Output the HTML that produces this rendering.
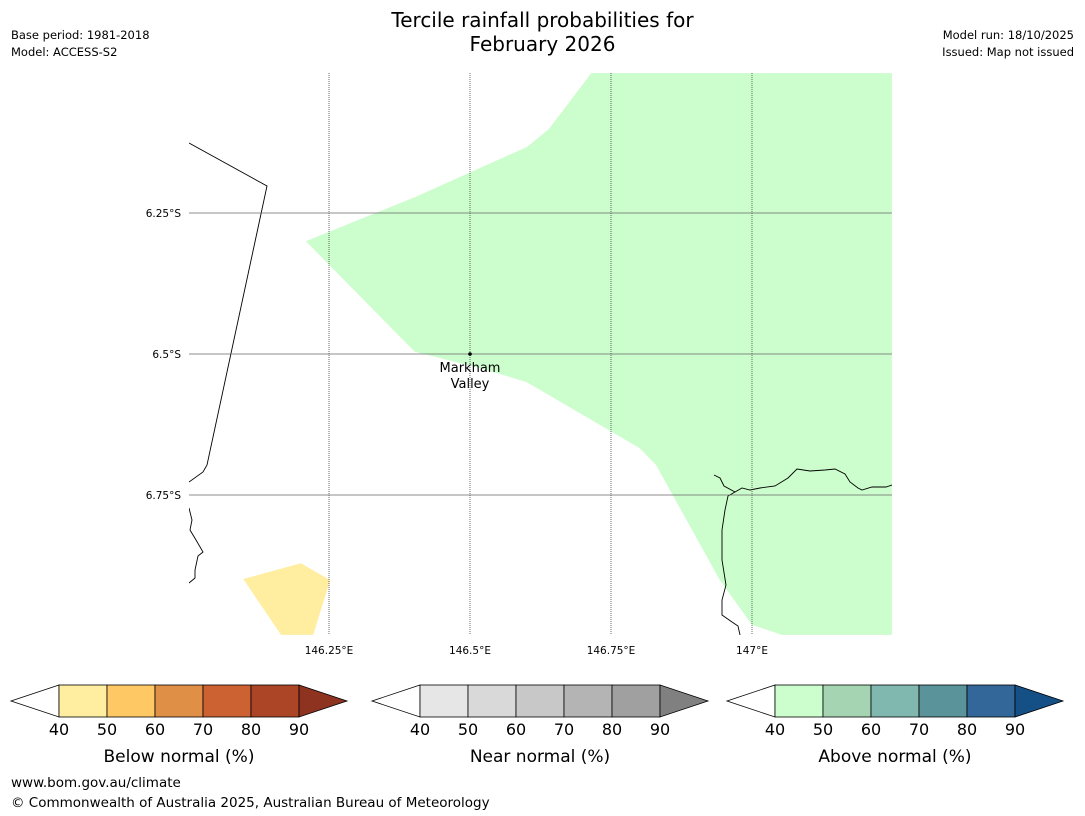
<!DOCTYPE html>
<html><head><meta charset="utf-8">
<style>
body{margin:0;background:#fff;font-family:"Liberation Sans","DejaVu Sans",sans-serif;}
#wrap{position:relative;width:1085px;height:816px;overflow:hidden;}
.t{position:absolute;white-space:nowrap;color:#000;}
</style></head>
<body>
<div id="wrap">
<div class="t" style="left:0;width:1085px;top:8px;text-align:center;font-size:20px;line-height:24px;font-family:'DejaVu Sans',sans-serif;">Tercile rainfall probabilities for<br>February 2026</div>
<div class="t" style="left:11px;top:27px;font-size:11.5px;font-family:'DejaVu Sans',sans-serif;line-height:17px;">Base period: 1981-2018<br>Model: ACCESS-S2</div>
<div class="t" style="right:11px;top:27px;font-size:11.5px;font-family:'DejaVu Sans',sans-serif;line-height:17px;text-align:right;">Model run: 18/10/2025<br>Issued: Map not issued</div>
<svg id="map" width="1085" height="816" style="position:absolute;left:0;top:0" font-family="DejaVu Sans, sans-serif"></svg>
<div class="t" style="left:11px;top:775px;font-size:13.5px;font-family:'DejaVu Sans',sans-serif;">www.bom.gov.au/climate</div>
<div class="t" style="left:11px;top:795px;font-size:13.5px;font-family:'DejaVu Sans',sans-serif;">© Commonwealth of Australia 2025, Australian Bureau of Meteorology</div>
</div>
<script>
const lonTicks=[146.25,146.5,146.75,147.0];
const lonLabels=["146.25°E","146.5°E","146.75°E","147°E"];
const latTicks=[6.25,6.5,6.75];
const latLabels=["6.25°S","6.5°S","6.75°S"];
const aboveRegion=[[146.715,6.002],[147.248,6.002],[147.248,6.998],[147.053,6.998],[147.0,6.98],[146.943,6.901],[146.83,6.697],[146.801,6.667],[146.601,6.55],[146.518,6.525],[146.402,6.496],[146.209,6.3],[146.402,6.222],[146.601,6.133],[146.64,6.101]];
const belowRegion=[[146.098,6.899],[146.2,6.871],[146.252,6.901],[146.222,6.998],[146.165,6.998]];
const cbTicks=[40,50,60,70,80,90];
const belowColors=["#ffeda0","#fec965","#e08f47","#cc6132","#ac4526"];
const nearColors=["#e6e6e6","#d9d9d9","#c8c8c8","#b4b4b4","#a0a0a0"];
const aboveColors=["#ccfdcc","#a5d4b3","#80b7ae","#5a9399","#336699"];
const NS="http://www.w3.org/2000/svg";
const svg=document.getElementById('map');
const X=lon=>329+(lon-146.25)*564;
const Y=lat=>213+(lat-6.25)*564;
function mk(tag,at,parent){const e=document.createElementNS(NS,tag);for(const k in at)e.setAttribute(k,at[k]);(parent||svg).appendChild(e);return e;}
const clip=mk('clipPath',{id:'mc'});mk('rect',{x:189,y:73,width:703,height:562},clip);
const g=mk('g',{'clip-path':'url(#mc)'});
let p=mk('polygon',{points:aboveRegion.map(d=>X(d[0])+','+Y(d[1])).join(' '),fill:'#ccfdcc'},g);

p=mk('polygon',{points:belowRegion.map(d=>X(d[0])+','+Y(d[1])).join(' '),fill:'#ffeda0'},g);

const coast=["M189,143 L267,186 L207,465 L203,472 L189,482",
"M189,508 L192,520 L190,530 L196,540 L203,552 L198,556 L195,570 L195,578 L189,583",
"M714,475 L720,478 L724,486 L735,492 L742,488 L750,490 L760,488 L775,486 L788,478 L797,469 L810,471 L825,470 L835,469 L845,474 L850,482 L858,488 L862,490 L872,487 L886,487 L892,485",
"M735,492 L728,496 L725,510 L722,530 L722,560 L726,585 L722,600 L722,615 L732,622 L738,626 L740,635"];
coast.forEach(d=>{const e=mk('path',{d:d,fill:'none',stroke:'#000','stroke-width':0.9},g);});
lonTicks.forEach((v,i)=>{
 let l=mk('line',{x1:X(v),x2:X(v),y1:73,y2:635,stroke:'#444','stroke-width':0.8,'stroke-dasharray':'1,1'});
 
 let t=mk('text',{x:X(v),y:654,'text-anchor':'middle','font-size':10.5});t.textContent=lonLabels[i];
 
});
latTicks.forEach((v,i)=>{
 let l=mk('line',{x1:189,x2:892,y1:Y(v),y2:Y(v),stroke:'#666','stroke-width':0.8});
 
 let t=mk('text',{x:181,y:Y(v)+4,'text-anchor':'end','font-size':10.5});t.textContent=latLabels[i];
 
});
let c=mk('circle',{cx:X(146.5),cy:Y(6.5),r:1.8,fill:'#000'});

let tl=mk('text',{x:X(146.5),y:372,'text-anchor':'middle','font-size':13});tl.textContent='Markham';

tl=mk('text',{x:X(146.5),y:388,'text-anchor':'middle','font-size':13});tl.textContent='Valley';

function colorbar(x0,colors,tri,label,name){
 const w=48,y0=685,h=32,gg=mk('g',{});
 
 const CX=v=>x0+(v-40)/10*w;
 mk('polygon',{points:`${x0},${y0} ${x0-48},${y0+h/2} ${x0},${y0+h}`,fill:'#fff',stroke:'#000','stroke-width':0.8},gg);
 colors.forEach((col,i)=>{mk('rect',{x:CX(cbTicks[i]),y:y0,width:CX(cbTicks[i+1])-CX(cbTicks[i]),height:h,fill:col,stroke:'#000','stroke-width':0.8},gg);});
 const xe=CX(90);
 mk('polygon',{points:`${xe},${y0} ${xe+48},${y0+h/2} ${xe},${y0+h}`,fill:tri,stroke:'#000','stroke-width':0.8},gg);
 cbTicks.forEach(v=>{let t=mk('text',{x:CX(v),y:735,'text-anchor':'middle','font-size':16},gg);t.textContent=v;});
 let t=mk('text',{x:CX(65),y:762,'text-anchor':'middle','font-size':17},gg);t.textContent=label;
}
colorbar(59,belowColors,'#8e3320','Below normal (%)','below-normal-colorbar');
colorbar(420,nearColors,'#808080','Near normal (%)','near-normal-colorbar');
colorbar(775,aboveColors,'#144f85','Above normal (%)','above-normal-colorbar');
</script>
</body></html>
